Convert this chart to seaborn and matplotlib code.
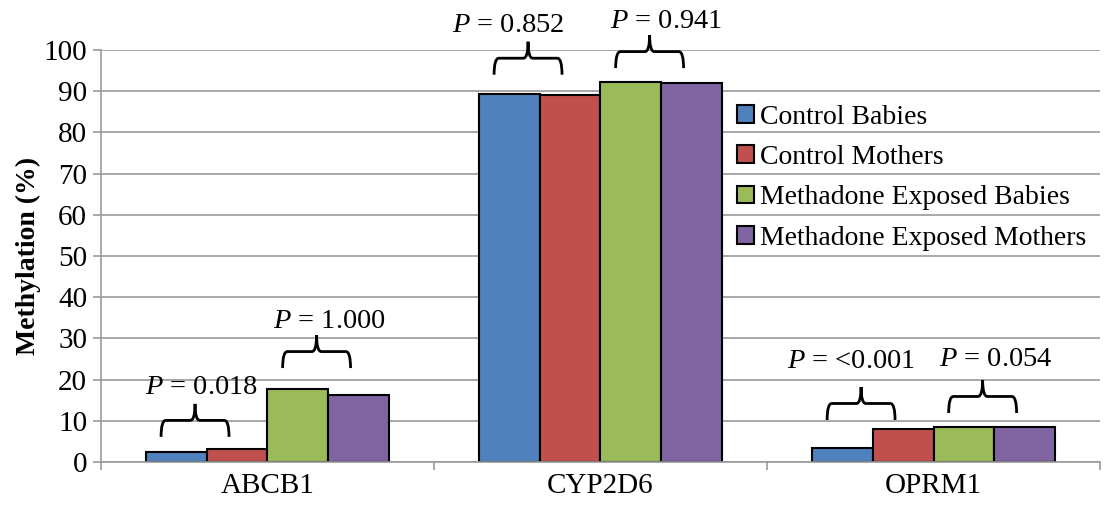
import pandas as pd
import numpy as np
import matplotlib
matplotlib.use("Agg")
import matplotlib.pyplot as plt
from matplotlib.path import Path
from matplotlib.patches import PathPatch
import seaborn as sns

genes = ["ABCB1", "CYP2D6", "OPRM1"]
groups = ["Control Babies", "Control Mothers",
          "Methadone Exposed Babies", "Methadone Exposed Mothers"]
control_babies = [2.5, 89.2, 3.5]
control_mothers = [3.1, 89.1, 8.1]
methadone_babies = [17.7, 92.2, 8.4]
methadone_mothers = [16.3, 91.9, 8.6]
# p values: first pair = babies vs mothers (control), second = methadone
p_control = ["0.018", "0.852", "<0.001"]
p_methadone = ["1.000", "0.941", "0.054"]

colors = ["#4F81BD", "#C0504D", "#9BBB59", "#8064A2"]

sns.set_theme(style="white")
plt.rcParams["font.family"] = ["Liberation Serif", "DejaVu Serif"]
plt.rcParams["mathtext.fontset"] = "custom"
plt.rcParams["mathtext.it"] = "Liberation Serif:italic"
plt.rcParams["mathtext.rm"] = "Liberation Serif"
plt.rcParams["text.color"] = "black"
plt.rcParams["axes.labelcolor"] = "black"
plt.rcParams["xtick.labelcolor"] = "black"
plt.rcParams["ytick.labelcolor"] = "black"

rows = []
for vals, g in zip([control_babies, control_mothers, methadone_babies, methadone_mothers], groups):
    for gene, v in zip(genes, vals):
        rows.append({"Gene": gene, "Group": g, "Methylation": v})
df = pd.DataFrame(rows)

fig = plt.figure(figsize=(11.07, 5.11), dpi=100)
ax = fig.add_axes([0.0912, 0.0959, 0.9025, 0.8063])

grid_col = "#9a9a9a"
fs = 20.5
ax.set_axisbelow(True)
ax.yaxis.grid(True, color=grid_col, linewidth=1.2)

width = 0.73
sns.barplot(data=df, x="Gene", y="Methylation", hue="Group", order=genes,
            hue_order=groups, palette=colors, width=width, edgecolor="black",
            linewidth=1.5, ax=ax, errorbar=None, saturation=1)

ax.set_xlim(-0.5, 2.5)
ax.set_ylim(0, 100)
ax.set_yticks(np.arange(0, 101, 10))
ax.set_xlabel("")
ax.set_ylabel("Methylation (%)", fontsize=20, fontweight="bold", labelpad=2)
ax.tick_params(axis="both", labelsize=21)
ax.tick_params(axis="y", length=6, color=grid_col, width=1.2, left=True, pad=4)
ax.tick_params(axis="x", which="major", length=0, pad=8)
ax.set_xticks([-0.5, 0.5, 1.5, 2.5], minor=True)
ax.tick_params(axis="x", which="minor", length=6, color=grid_col, width=1.2, bottom=True)
for s in ["top", "right"]:
    ax.spines[s].set_visible(False)
for s in ["left", "bottom"]:
    ax.spines[s].set_color(grid_col)
    ax.spines[s].set_linewidth(1.2)

# brackets
bw = width / 4
offs = [-width / 2 + bw / 2 + i * bw for i in range(4)]
brace_base = [[6.1, 22.8], [94.0, 95.6], [10.2, 11.9]]
text_y = [[18.0, 34.0], [106.0, 106.8], [24.3, 24.8]]
text_dx = [[0.02, 0.04], [-0.06, 0.05], [-0.03, 0.04]]
half = 0.102
h = 8.0


def brace(ax, x0, x1, y, h):
    xm = (x0 + x1) / 2
    r = (x1 - x0) * 0.07
    verts = [(x0, y), (x0, y + h / 2), (x0 + r, y + h / 2), (xm - r, y + h / 2),
             (xm, y + h / 2), (xm, y + h),
             (x1, y), (x1, y + h / 2), (x1 - r, y + h / 2), (xm + r, y + h / 2),
             (xm, y + h / 2), (xm, y + h)]
    codes = [Path.MOVETO, Path.CURVE3, Path.CURVE3, Path.LINETO, Path.CURVE3, Path.CURVE3] * 2
    ax.add_patch(PathPatch(Path(verts, codes), fill=False, edgecolor="black",
                           linewidth=2.0, clip_on=False))


for i, gene in enumerate(genes):
    for j, (pair, pv) in enumerate(zip([(0, 1), (2, 3)], [p_control[i], p_methadone[i]])):
        mid = i + (offs[pair[0]] + offs[pair[1]]) / 2 - 0.035
        brace(ax, mid - half, mid + half, brace_base[i][j], h)
        ax.text(mid + text_dx[i][j], text_y[i][j], r"$P$ = " + pv, ha="center",
                va="center", fontsize=fs, clip_on=False)

handles, labels = ax.get_legend_handles_labels()
ax.legend(handles, labels, loc="center left", bbox_to_anchor=(0.626, 0.69),
          frameon=False, fontsize=20, handlelength=0.6, handleheight=0.6,
          handletextpad=0.2, labelspacing=0.55, borderaxespad=0)

fig.savefig("out.png", dpi=100)
